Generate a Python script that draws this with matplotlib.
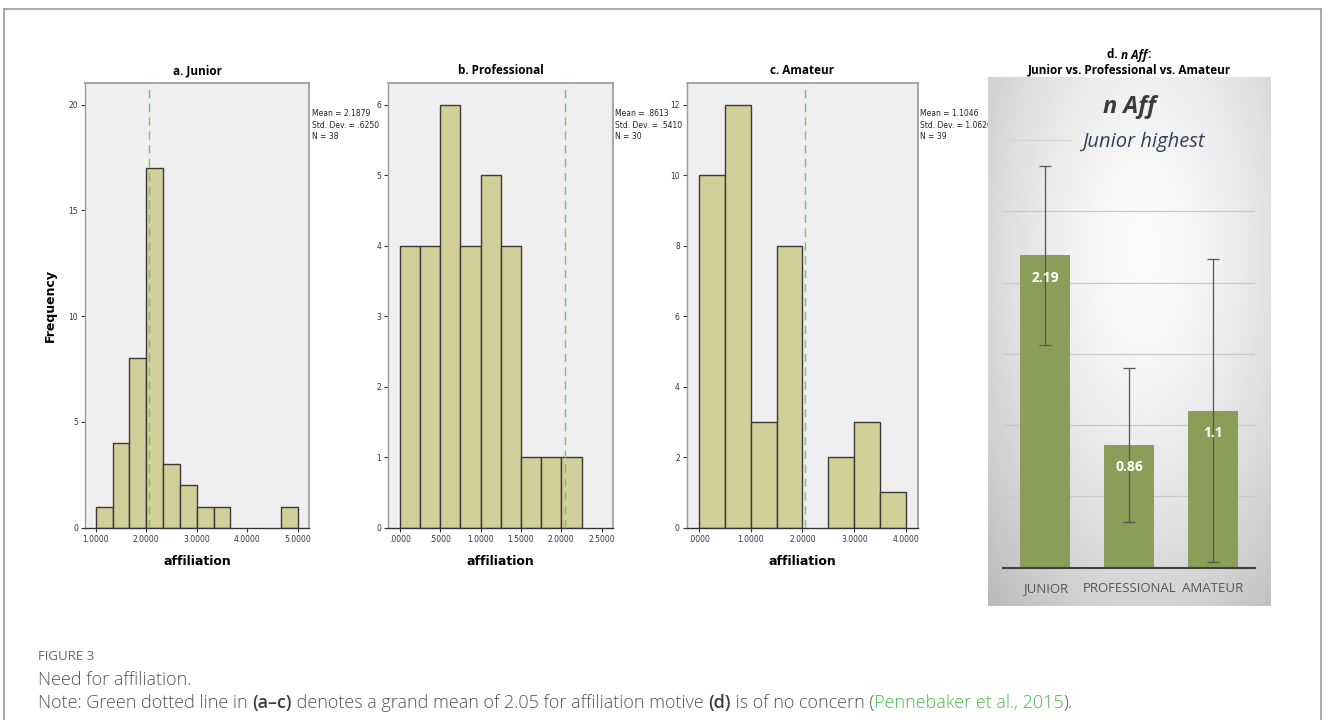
import numpy as np
import matplotlib
matplotlib.use("Agg")
import matplotlib.pyplot as plt

W, H = 1328, 720

# histogram bins and counts (SPSS output)
junior_edges = [1.0, 1.3333, 1.6667, 2.0, 2.3333, 2.6667, 3.0, 3.3333, 3.6667, 4.0, 4.3333, 4.6667, 5.0]
junior_counts = [1, 4, 8, 17, 3, 2, 1, 1, 0, 0, 0, 1]
pro_edges = [0.0, 0.25, 0.5, 0.75, 1.0, 1.25, 1.5, 1.75, 2.0, 2.25]
pro_counts = [4, 4, 6, 4, 5, 4, 1, 1, 1]
amateur_edges = [0.0, 0.5, 1.0, 1.5, 2.0, 2.5, 3.0, 3.5, 4.0]
amateur_counts = [10, 12, 3, 8, 0, 2, 3, 1]
grand_mean = 2.05

stats = {
    "a": ["Mean = 2.1879", "Std. Dev. = .6250", "N = 38"],
    "b": ["Mean = .8613", "Std. Dev. = .5410", "N = 30"],
    "c": ["Mean = 1.1046", "Std. Dev. = 1.0620", "N = 39"],
}

# group means with SD error bars
groups = ["JUNIOR", "PROFESSIONAL", "AMATEUR"]
group_means = [2.19, 0.86, 1.1]
group_sd = [0.625, 0.541, 1.062]

NARROW = ["Liberation Sans Narrow", "DejaVu Sans"]
OPEN = ["Open Sans", "DejaVu Sans"]


def rect(l, t, r, b):
    return [l / W, 1 - b / H, (r - l) / W, (b - t) / H]


fig = plt.figure(figsize=(W / 100, H / 100), dpi=100)
fig.patch.set_facecolor("white")

# outer frame
fig.add_artist(plt.Line2D([4 / W, 4 / W], [0, 1 - 9 / H], color="#9a9a9a", lw=1.2))
fig.add_artist(plt.Line2D([4 / W, 1321 / W], [1 - 9 / H, 1 - 9 / H], color="#9a9a9a", lw=1.2))
fig.add_artist(plt.Line2D([1321 / W, 1321 / W], [0, 1 - 9 / H], color="#9a9a9a", lw=1.2))


def histogram(box, edges, counts, xlim, ylim, xticks, xlabels, yticks, title, key, ylabel=None):
    ax = fig.add_axes(rect(*box))
    ax.set_facecolor("#efefef")
    edges = np.array(edges)
    counts = np.array(counts)
    keep = counts > 0
    ax.bar(edges[:-1][keep], counts[keep], width=np.diff(edges)[keep], align="edge",
           color="#d3cf99", edgecolor="#3a3a3a", linewidth=1.0, zorder=2)
    ax.axvline(grand_mean, color="#6cc66c", lw=1.0, ls=(0, (6, 4)), zorder=3)
    ax.set_xlim(*xlim)
    ax.set_ylim(*ylim)
    ax.set_xticks(xticks)
    ax.set_xticklabels(xlabels, family=NARROW, fontsize=5.5, color="#333333")
    ax.set_yticks(yticks)
    ax.set_yticklabels([str(v) for v in yticks], family=NARROW, fontsize=5.5, color="#333333")
    ax.tick_params(axis="both", length=3, width=0.8, color="#333333", pad=2)
    for side in ["top", "right"]:
        ax.spines[side].set_color("#9a9a9a")
        ax.spines[side].set_linewidth(1.2)
    ax.spines["left"].set_color("#9a9a9a")
    ax.spines["left"].set_linewidth(1.0)
    ax.spines["bottom"].set_color("#333333")
    ax.spines["bottom"].set_linewidth(1.0)
    ax.set_title(title, family=OPEN, fontweight="bold", fontsize=8.5, pad=6)
    ax.set_xlabel("affiliation", family=NARROW, fontweight="bold", fontsize=9, labelpad=8)
    if ylabel:
        ax.set_ylabel(ylabel, family="DejaVu Sans", fontweight="bold", fontsize=9, labelpad=8)
    ax.text(1.012, 0.94, "\n".join(stats[key]), transform=ax.transAxes, va="top", ha="left",
            family=NARROW, fontsize=5.5, linespacing=1.3, color="#222222")
    return ax


histogram((85, 82.7, 309.3, 527.7), junior_edges, junior_counts, (0.788, 5.23), (0, 21.04),
          [1, 2, 3, 4, 5], ["1.0000", "2.0000", "3.0000", "4.0000", "5.0000"],
          [0, 5, 10, 15, 20], "a. Junior", "a", ylabel="Frequency")
histogram((388.3, 82.7, 612.7, 527.7), pro_edges, pro_counts, (-0.141, 2.636), (0, 6.31),
          [0, 0.5, 1, 1.5, 2, 2.5], [".0000", ".5000", "1.0000", "1.5000", "2.0000", "2.5000"],
          [0, 1, 2, 3, 4, 5, 6], "b. Professional", "b")
histogram((686.7, 82.7, 917.7, 527.7), amateur_edges, amateur_counts, (-0.23, 4.22), (0, 12.62),
          [0, 1, 2, 3, 4], [".0000", "1.0000", "2.0000", "3.0000", "4.0000"],
          [0, 2, 4, 6, 8, 10, 12], "c. Amateur", "c")

# panel d: gradient card behind the bar chart
bg = fig.add_axes(rect(987.7, 77.3, 1270.7, 606))
yy, xx = np.mgrid[0:1:300j, 0:1:200j]
dist = np.sqrt(((xx - 0.55) / 0.75) ** 2 + ((yy - 0.33) / 0.85) ** 2)
shade = 0.985 - 0.23 * np.clip(dist, 0, 1.2) ** 1.6
bg.imshow(shade, cmap="gray", vmin=0, vmax=1, aspect="auto", extent=(0, 1, 0, 1), origin="upper")
bg.set_axis_off()

ax = fig.add_axes(rect(1003.3, 77.3, 1255, 567.7))
ax.patch.set_alpha(0)
x = np.arange(len(groups))
for level in [0.5, 1.0, 1.5, 2.0, 2.5]:
    ax.axhline(level, color="#c9c9c9", lw=0.9, zorder=1)
ax.axhline(3.0, xmax=0.27, color="#d4d4d4", lw=0.9, zorder=1)
ax.bar(x, group_means, width=0.6, color="#8a9d59", zorder=2)
ax.errorbar(x, group_means, yerr=group_sd, fmt="none", ecolor="#555555", elinewidth=0.9,
            capsize=4, capthick=0.9, zorder=3)
for xi, m in zip(x, group_means):
    ax.annotate(f"{m:g}", (xi, m), xytext=(0, -16), textcoords="offset points", ha="center",
                va="center", color="white", fontweight="bold", family=OPEN, fontsize=10, zorder=4)
ax.set_xlim(-0.5, 2.5)
ax.set_ylim(0, 3.439)
ax.set_yticks([])
ax.set_xticks(x)
ax.set_xticklabels(groups, family=OPEN, fontsize=9.5, color="#555555")
ax.tick_params(axis="x", length=0, pad=10)
for side in ["top", "right", "left"]:
    ax.spines[side].set_visible(False)
ax.spines["bottom"].set_color("#404040")
ax.spines["bottom"].set_linewidth(1.5)
ax.text(0.5, 1 - (106.8 - 77.3) / 490.4, "n Aff", transform=ax.transAxes, ha="center", va="center",
        family=OPEN, fontweight="bold", style="italic", fontsize=17, color="#3b3b3b")
ax.text(0.555, 1 - (141.5 - 77.3) / 490.4, "Junior highest", transform=ax.transAxes, ha="center",
        va="center", family=OPEN, style="italic", fontsize=14.5, color="#33415c")

renderer = fig.canvas.get_renderer()


def run_text(pieces, x0, y, center=False, **common):
    """Draw a row of text pieces side by side, in pixel coordinates."""
    arts = []
    for txt, kw in pieces:
        style = dict(common)
        style.update(kw)
        t = fig.text(0, 1 - y / H, txt, va="center", ha="left", **style)
        arts.append(t)
    widths = [a.get_window_extent(renderer).width for a in arts]
    total = sum(widths)
    pos = x0 - total / 2 if center else x0
    for a, w in zip(arts, widths):
        a.set_x(pos / W)
        pos += w
    return arts


# panel d heading: "d. n Aff:" with italic name
run_text([("d. ", {"fontweight": "bold"}),
          ("n Aff", {"fontweight": "bold", "style": "italic"}),
          (":", {"fontweight": "bold"})], 1129, 55, center=True, family=OPEN, fontsize=8.5)
fig.text(1129 / W, 1 - 69.5 / H, "Junior vs. Professional vs. Amateur", ha="center", va="center",
         family=OPEN, fontweight="bold", fontsize=8.5)

# caption
cap = "#555555"
fig.text(38 / W, 1 - 657 / H, "FIGURE 3", family=OPEN, fontsize=9.5, color="#666666", va="center")
fig.text(38 / W, 1 - 680 / H, "Need for affiliation.", family=OPEN, fontsize=13, color=cap,
         va="center", fontweight="light")
run_text([("Note: Green dotted line in ", {"color": cap}),
          ("(a\u2013c)", {"color": "#3a3a3a", "fontweight": "semibold"}),
          (" denotes a grand mean of 2.05 for affiliation motive ", {"color": cap}),
          ("(d)", {"color": "#3a3a3a", "fontweight": "semibold"}),
          (" is of no concern (", {"color": cap}),
          ("Pennebaker et al., 2015", {"color": "#4cb84c"}),
          (").", {"color": cap})], 38, 703, family=OPEN, fontsize=13, fontweight="light")

fig.savefig("out.png", dpi=100)
